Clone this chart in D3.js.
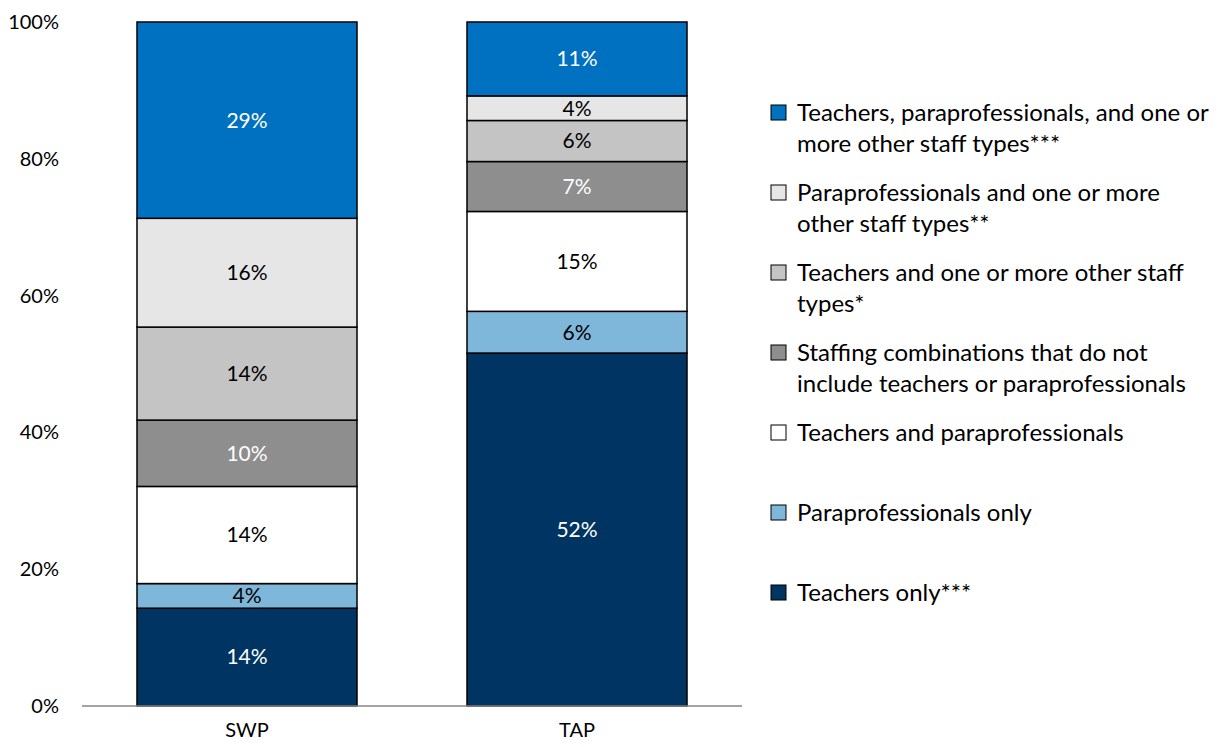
<!DOCTYPE html>
<html>
<head>
<meta charset="utf-8">
<script src="https://cdn.jsdelivr.net/npm/d3@7"></script>
<style>
  body { margin: 0; background: #fff; }
  svg { display: block; font-family: Lato, "Open Sans", sans-serif; }
</style>
</head>
<body>
<div id="chart"></div>
<script>
// Dados (percentuais), de baixo para cima
const programs = ['SWP', 'TAP'];
const seriesNames = [
  ['Teachers only***'],
  ['Paraprofessionals only'],
  ['Teachers and paraprofessionals'],
  ['Staffing combinations that do not', 'include teachers or paraprofessionals'],
  ['Teachers and one or more other staff', 'types*'],
  ['Paraprofessionals and one or more', 'other staff types**'],
  ['Teachers, paraprofessionals, and one or', 'more other staff types***']
];
const swpValues = [14.3, 3.6, 14.2, 9.7, 13.6, 15.9, 28.7];
const tapValues = [51.6, 6.1, 14.6, 7.3, 6.0, 3.6, 10.8];
const yTicks = [0, 20, 40, 60, 80, 100];

const colors = ['#003462', '#7FB7DB', '#FFFFFF', '#8E8E8E', '#C4C4C4', '#E6E6E6', '#0070C0'];
const labelColors = ['#fff', '#000', '#000', '#fff', '#000', '#000', '#fff'];

const width = 1228, height = 747;

const svg = d3.select('#chart').append('svg')
  .attr('width', width)
  .attr('height', height);

// Escalas
const x = d3.scaleBand()
  .domain(programs)
  .range([82, 742])
  .paddingInner(1 / 3)
  .paddingOuter(1 / 6);

const y = d3.scaleLinear()
  .domain([0, 100])
  .range([706, 22]);

// Empilhar
const rows = programs.map((p, i) => {
  const vals = i === 0 ? swpValues : tapValues;
  const r = { program: p };
  vals.forEach((v, k) => r['s' + k] = v);
  return r;
});
const keys = seriesNames.map((d, k) => 's' + k);
const stacked = d3.stack().keys(keys)(rows);

const layers = svg.append('g')
  .selectAll('g')
  .data(stacked)
  .join('g')
  .attr('fill', (d, i) => colors[i]);

layers.selectAll('rect')
  .data(d => d)
  .join('rect')
  .attr('x', d => x(d.data.program))
  .attr('y', d => y(d[1]))
  .attr('width', x.bandwidth())
  .attr('height', d => y(d[0]) - y(d[1]))
  .attr('stroke', '#000')
  .attr('stroke-width', 1.5);

// Rótulos dos segmentos
stacked.forEach((layer, i) => {
  svg.append('g')
    .selectAll('text')
    .data(layer)
    .join('text')
    .attr('x', d => x(d.data.program) + x.bandwidth() / 2)
    .attr('y', d => (y(d[0]) + y(d[1])) / 2)
    .attr('dy', '0.35em')
    .attr('text-anchor', 'middle')
    .attr('font-size', 21)
    .attr('fill', labelColors[i])
    .text(d => Math.round(d[1] - d[0]) + '%');
});

// Eixo X
svg.append('line')
  .attr('x1', 82).attr('x2', 742)
  .attr('y1', y(0)).attr('y2', y(0))
  .attr('stroke', '#868686')
  .attr('stroke-width', 1.5);

svg.append('g')
  .selectAll('text')
  .data(programs)
  .join('text')
  .attr('x', d => x(d) + x.bandwidth() / 2)
  .attr('y', 737)
  .attr('text-anchor', 'middle')
  .attr('font-size', 20)
  .attr('fill', '#000')
  .text(d => d);

// Eixo Y (só rótulos)
svg.append('g')
  .selectAll('text')
  .data(yTicks)
  .join('text')
  .attr('x', 59)
  .attr('y', d => y(d))
  .attr('dy', '0.35em')
  .attr('text-anchor', 'end')
  .attr('font-size', 20)
  .attr('fill', '#000')
  .text(d => d + '%');

// Legenda (ordem invertida, de cima para baixo)
const legendOrder = d3.range(seriesNames.length).reverse();
const legend = svg.append('g')
  .selectAll('g')
  .data(legendOrder)
  .join('g')
  .attr('transform', (d, i) => `translate(771,${112.5 + i * 80})`);

legend.append('rect')
  .attr('x', 0).attr('y', -7.5)
  .attr('width', 15).attr('height', 15)
  .attr('fill', d => colors[d])
  .attr('stroke', '#000')
  .attr('stroke-width', 1);

legend.append('text')
  .attr('font-size', 24)
  .attr('fill', '#000')
  .selectAll('tspan')
  .data(d => seriesNames[d])
  .join('tspan')
  .attr('x', 26)
  .attr('y', (d, j) => 8 + j * 31)
  .text(d => d);
</script>
</body>
</html>
